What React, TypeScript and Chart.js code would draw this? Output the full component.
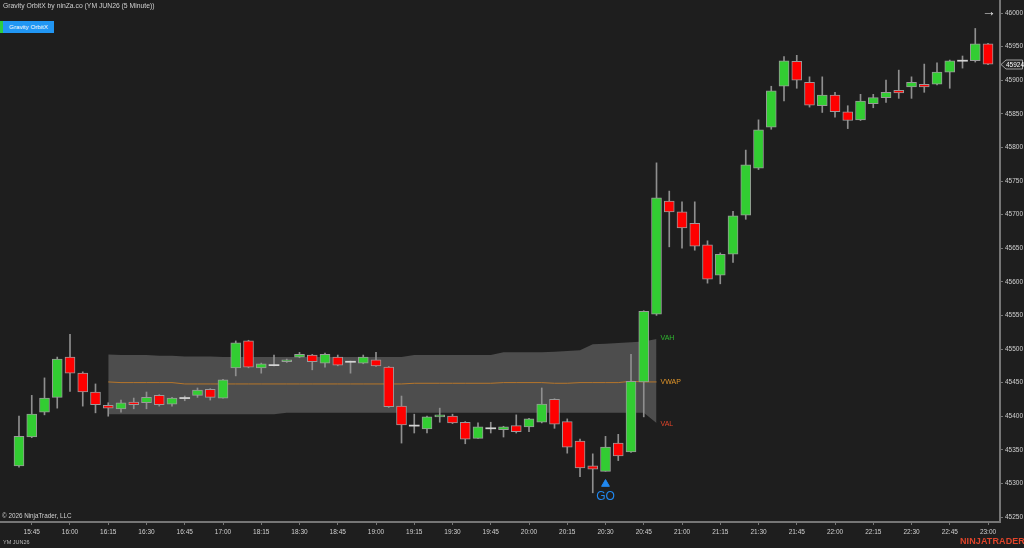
import React, { useEffect, useRef } from 'react';
import { Chart, registerables } from 'chart.js';

Chart.register(...registerables);

// ---------- DATA ----------
const barTimes = [
  '15:40', '15:45', '15:50', '15:55', '16:00', '16:05', '16:10', '16:15', '16:20', '16:25',
  '16:30', '16:35', '16:40', '16:45', '16:50', '16:55', '17:00',
  '18:05', '18:10', '18:15', '18:20', '18:25', '18:30', '18:35', '18:40', '18:45',
  '18:50', '18:55', '19:00', '19:05', '19:10', '19:15', '19:20', '19:25', '19:30',
  '19:35', '19:40', '19:45', '19:50', '19:55', '20:00', '20:05', '20:10', '20:15',
  '20:20', '20:25', '20:30', '20:35', '20:40', '20:45', '20:50', '20:55', '21:00',
  '21:05', '21:10', '21:15', '21:20', '21:25', '21:30', '21:35', '21:40', '21:45',
  '21:50', '21:55', '22:00', '22:05', '22:10', '22:15', '22:20', '22:25', '22:30',
  '22:35', '22:40', '22:45', '22:50', '22:55', '23:00',
];

const opens = [
  45326, 45369, 45406, 45428, 45488, 45464, 45436, 45416, 45411, 45421,
  45420, 45431, 45418, 45427, 45431, 45440, 45427, 45472, 45512, 45472,
  45476, 45481, 45488, 45491, 45479, 45488, 45481, 45479, 45484, 45473,
  45415, 45386, 45381, 45399, 45400, 45391, 45367, 45382, 45380, 45386,
  45384, 45391, 45425, 45392, 45363, 45326, 45318, 45360, 45347, 45451,
  45552, 45720, 45704, 45687, 45655, 45610, 45641, 45699, 45769, 45830,
  45891, 45928, 45897, 45862, 45878, 45853, 45841, 45865, 45874, 45885,
  45890, 45894, 45894, 45912, 45929, 45929, 45954,
];
const highs = [
  45400, 45431, 45457, 45488, 45522, 45466, 45448, 45420, 45424, 45427,
  45436, 45432, 45428, 45430, 45442, 45441, 45455, 45512, 45513, 45479,
  45491, 45485, 45495, 45492, 45494, 45491, 45482, 45491, 45495, 45474,
  45430, 45403, 45400, 45412, 45403, 45392, 45390, 45391, 45385, 45402,
  45397, 45442, 45426, 45396, 45366, 45344, 45370, 45373, 45492, 45557,
  45777, 45735, 45719, 45719, 45661, 45643, 45705, 45796, 45841, 45891,
  45935, 45937, 45905, 45905, 45882, 45862, 45879, 45879, 45900, 45915,
  45905, 45924, 45926, 45930, 45936, 45977, 45955,
];
const lows = [
  45324, 45368, 45402, 45412, 45437, 45415, 45405, 45400, 45406, 45411,
  45411, 45415, 45415, 45423, 45428, 45424, 45427, 45460, 45472, 45464,
  45475, 45480, 45487, 45469, 45473, 45475, 45464, 45478, 45474, 45413,
  45360, 45375, 45375, 45391, 45389, 45359, 45367, 45375, 45369, 45375,
  45377, 45390, 45382, 45345, 45310, 45286, 45318, 45334, 45346, 45399,
  45550, 45652, 45650, 45647, 45598, 45597, 45629, 45693, 45767, 45827,
  45869, 45888, 45860, 45852, 45845, 45828, 45840, 45859, 45867, 45873,
  45873, 45882, 45893, 45888, 45918, 45927, 45923,
];
const closes = [
  45370, 45403, 45427, 45485, 45464, 45436, 45417, 45412, 45420, 45417,
  45428, 45417, 45427, 45427, 45439, 45428, 45454, 45509, 45473, 45478,
  45476, 45484, 45492, 45481, 45492, 45476, 45481, 45488, 45475, 45414,
  45387, 45386, 45399, 45402, 45390, 45366, 45384, 45382, 45384, 45377,
  45396, 45418, 45388, 45354, 45323, 45321, 45354, 45341, 45452, 45556,
  45725, 45704, 45680, 45653, 45604, 45641, 45698, 45774, 45826, 45884,
  45929, 45900, 45863, 45878, 45853, 45840, 45869, 45874, 45882, 45881,
  45897, 45890, 45912, 45929, 45929, 45954, 45924,
];

// Value-area band (starts at bar index bandStart)
const bandStart = 7;
const vah = [
  45492, 45491, 45491, 45491, 45490, 45490, 45489, 45489, 45489, 45488,
  45488, 45488, 45488, 45488, 45488, 45488, 45488, 45488, 45488, 45488,
  45488, 45488, 45488, 45488, 45491, 45491, 45491, 45491, 45491, 45491,
  45491, 45495, 45495, 45495, 45495, 45496, 45497, 45498, 45507, 45508,
  45509, 45510, 45511, 45515,
];
const vwap = [
  45451, 45450, 45450, 45450, 45450, 45450, 45448, 45448, 45448, 45448,
  45448, 45448, 45448, 45448, 45448, 45448, 45448, 45448, 45448, 45448,
  45448, 45448, 45448, 45448, 45449, 45449, 45449, 45449, 45449, 45449,
  45449, 45450, 45450, 45450, 45450, 45449, 45449, 45450, 45450, 45450,
  45450, 45452, 45451, 45451,
];
const val = [
  45403, 45403, 45403, 45403, 45403, 45403, 45403, 45403, 45403, 45403,
  45403, 45403, 45403, 45403, 45405, 45405, 45405, 45405, 45405, 45405,
  45405, 45405, 45405, 45405, 45405, 45405, 45405, 45405, 45405, 45405,
  45405, 45405, 45405, 45405, 45405, 45405, 45405, 45405, 45405, 45405,
  45405, 45405, 45405, 45390,
];

// Signal
const signalBar = 46;
const signalPrice = 45299;
const signalText = 'GO';

// Axis range
const yMin = 45242.56;
const yMax = 46019.35;
const xMin = -1.49;
const xMax = 76.94;
const yStep = 50;

// ---------- STYLE ----------
const BG = '#1e1e1e';
const UP = '#32cd32';
const DOWN = '#ff0000';
const DOJI = '#d4d4d4';
const WICK = '#8f8f8f';
const OUTLINE = '#9a9a9a';
const AXIS = '#767676';
const TEXT = '#d0d0d0';
const FONT = '"Liberation Sans", Arial, sans-serif';
const BLUE = '#2088f0';

const tickBars = barTimes
  .map((t, i) => ({ t, i }))
  .filter((o) => ['00', '15', '30', '45'].includes(o.t.split(':')[1]))
  .map((o) => o.i);

const annotationPlugin = {
  id: 'annotations',
  afterDatasetsDraw(chart: any) {
    const { ctx, scales, chartArea } = chart;
    const x = scales.x;
    const y = scales.y;
    ctx.save();
    const lastIdx = bandStart + vah.length - 1;
    const lx = x.getPixelForValue(lastIdx) + 4;
    ctx.font = `7px ${FONT}`;
    ctx.textBaseline = 'middle';
    ctx.textAlign = 'left';
    ctx.fillStyle = '#2fb82f';
    ctx.fillText('VAH', lx, y.getPixelForValue(vah[vah.length - 1]) - 1);
    ctx.fillStyle = '#e0952a';
    ctx.fillText('VWAP', lx, y.getPixelForValue(vwap[vwap.length - 1]));
    ctx.fillStyle = '#e0442a';
    ctx.fillText('VAL', lx, y.getPixelForValue(val[val.length - 1]) + 1);

    ctx.fillStyle = BLUE;
    ctx.font = `12px ${FONT}`;
    ctx.textAlign = 'center';
    ctx.textBaseline = 'middle';
    ctx.fillText(signalText, x.getPixelForValue(signalBar), y.getPixelForValue(signalPrice) + 13);
    ctx.restore();

    // price tag
    const last = closes.length - 1;
    const py = Math.round(y.getPixelForValue(closes[last])) + 0.5;
    const rx = chartArea.right + 1;
    ctx.save();
    ctx.beginPath();
    ctx.moveTo(rx, py);
    ctx.lineTo(rx + 5, py - 4.5);
    ctx.lineTo(1022.5, py - 4.5);
    ctx.lineTo(1022.5, py + 4.5);
    ctx.lineTo(rx + 5, py + 4.5);
    ctx.closePath();
    ctx.fillStyle = '#262626';
    ctx.fill();
    ctx.strokeStyle = '#a0a0a0';
    ctx.lineWidth = 1;
    ctx.stroke();
    ctx.fillStyle = '#ffffff';
    ctx.font = `6.5px ${FONT}`;
    ctx.textAlign = 'left';
    ctx.textBaseline = 'middle';
    ctx.fillText(String(closes[last]), rx + 5, py + 0.5);
    ctx.restore();
  },
};

const bgPlugin = {
  id: 'bg',
  beforeDraw(chart: any) {
    const { ctx, width, height } = chart;
    ctx.save();
    ctx.fillStyle = BG;
    ctx.fillRect(0, 0, width, height);
    ctx.restore();
  },
};

export default function App() {
  const canvasRef = useRef<HTMLCanvasElement | null>(null);

  useEffect(() => {
    document.body.style.margin = '0';
    document.body.style.background = BG;
    const canvas = canvasRef.current;
    if (!canvas) return;

    const wickData = barTimes.map((_, i) => ({ x: i, y: [lows[i], highs[i]] }));
    const bodyData = barTimes.map((_, i) => {
      const o = opens[i];
      const c = closes[i];
      if (Math.abs(o - c) < 1) return { x: i, y: [o - 0.8, o + 0.8] };
      return { x: i, y: [o, c] };
    });
    const bodyColors = barTimes.map((_, i) =>
      Math.abs(opens[i] - closes[i]) < 1 ? DOJI : closes[i] > opens[i] ? UP : DOWN
    );
    const bodyBorders = barTimes.map((_, i) => (Math.abs(opens[i] - closes[i]) < 1 ? 0 : 1));

    const vahData = vah.map((v, k) => ({ x: bandStart + k, y: v }));
    const valData = val.map((v, k) => ({ x: bandStart + k, y: v }));
    const vwapData = vwap.map((v, k) => ({ x: bandStart + k, y: v }));

    const chart = new Chart(canvas, {
      type: 'bar',
      data: {
        datasets: [
          {
            type: 'line',
            label: 'VAH',
            data: vahData,
            borderWidth: 0,
            borderColor: 'rgba(0,0,0,0)',
            backgroundColor: '#4d4d4d',
            pointRadius: 0,
            fill: 1,
            tension: 0,
            order: 10,
          } as any,
          {
            type: 'line',
            label: 'VAL',
            data: valData,
            borderWidth: 0,
            borderColor: 'rgba(0,0,0,0)',
            pointRadius: 0,
            fill: false,
            order: 9,
          } as any,
          {
            type: 'line',
            label: 'VWAP',
            data: vwapData,
            borderWidth: 1,
            borderColor: '#b7762a',
            pointRadius: 0,
            fill: false,
            order: 8,
          } as any,
          {
            type: 'bar',
            label: 'wick',
            data: wickData,
            backgroundColor: WICK,
            barThickness: 1,
            grouped: false,
            order: 5,
          } as any,
          {
            type: 'bar',
            label: 'body',
            data: bodyData,
            backgroundColor: bodyColors,
            borderColor: OUTLINE,
            borderWidth: bodyBorders,
            borderSkipped: false,
            barThickness: 10,
            grouped: false,
            order: 2,
          } as any,
          {
            type: 'line',
            label: 'signal',
            data: [{ x: signalBar, y: signalPrice }],
            showLine: false,
            pointStyle: 'triangle',
            pointRadius: 4.5,
            pointBackgroundColor: BLUE,
            pointBorderColor: BLUE,
            order: 1,
          } as any,
        ],
      },
      options: {
        responsive: false,
        animation: false,
        devicePixelRatio: 1,
        layout: { padding: 0, autoPadding: false },
        plugins: {
          legend: { display: false },
          tooltip: { enabled: false },
        },
        scales: {
          x: {
            type: 'linear',
            offset: false,
            min: xMin,
            max: xMax,
            grid: {
              display: true,
              offset: false,
              drawOnChartArea: false,
              drawTicks: true,
              tickLength: 3,
              tickColor: AXIS,
            },
            border: { display: true, color: AXIS, width: 2 },
            ticks: {
              color: TEXT,
              font: { size: 6.5, family: FONT },
              padding: 3,
              maxRotation: 0,
              autoSkip: false,
              callback: (v: any) => barTimes[Math.round(Number(v))] ?? '',
            },
            afterBuildTicks: (s: any) => {
              s.ticks = tickBars.map((v) => ({ value: v }));
            },
            afterFit: (s: any) => {
              s.height = 26;
              s.paddingLeft = 0;
              s.paddingRight = 0;
            },
          },
          y: {
            type: 'linear',
            position: 'right',
            min: yMin,
            max: yMax,
            grid: {
              display: true,
              drawOnChartArea: false,
              drawTicks: true,
              tickLength: 3,
              tickColor: AXIS,
            },
            border: { display: true, color: AXIS, width: 2 },
            ticks: {
              color: TEXT,
              font: { size: 6.5, family: FONT },
              padding: 2,
              stepSize: yStep,
              callback: (v: any) => String(v),
            },
            afterBuildTicks: (s: any) => {
              const t: any[] = [];
              for (let v = Math.ceil(yMin / yStep) * yStep; v <= yMax; v += yStep) t.push({ value: v });
              s.ticks = t;
            },
            afterFit: (s: any) => {
              s.width = 24;
              s.paddingTop = 0;
              s.paddingBottom = 0;
            },
          },
        },
      },
      plugins: [bgPlugin, annotationPlugin],
    });

    return () => chart.destroy();
  }, []);

  const txt: React.CSSProperties = {
    position: 'absolute',
    fontFamily: FONT,
    color: TEXT,
    whiteSpace: 'nowrap',
    lineHeight: 1,
  };

  return (
    <div style={{ position: 'fixed', left: 0, top: 0, width: 1024, height: 548, background: BG, overflow: 'hidden' }}>
      <canvas ref={canvasRef} width={1024} height={548} style={{ position: 'absolute', left: 0, top: 0, width: 1024, height: 548 }} />
      <div style={{ ...txt, left: 3, top: 3, fontSize: 6.8 }}>Gravity OrbitX by ninZa.co (YM JUN26 (5 Minute))</div>
      <div style={{ position: 'absolute', left: 0, top: 21, width: 3, height: 12, background: '#2ecc40' }} />
      <div
        style={{
          ...txt,
          left: 3,
          top: 21,
          width: 51,
          height: 12,
          background: '#2196f3',
          color: '#ffffff',
          fontSize: 6.2,
          display: 'flex',
          alignItems: 'center',
          justifyContent: 'center',
        }}
      >
        Gravity OrbitX
      </div>
      <div style={{ ...txt, left: 982, top: 4, fontSize: 14, color: '#e8e8e8' }}>→</div>
      <div style={{ ...txt, left: 2, top: 513, fontSize: 6.3 }}>© 2026 NinjaTrader, LLC</div>
      <div style={{ ...txt, left: 3, top: 540, fontSize: 5.5, color: '#bdbdbd' }}>YM JUN26</div>
      <div style={{ ...txt, left: 960, top: 537, fontSize: 9, fontWeight: 700, color: '#e0442a', letterSpacing: 0.1 }}>
        NINJATRADER
      </div>
    </div>
  );
}
